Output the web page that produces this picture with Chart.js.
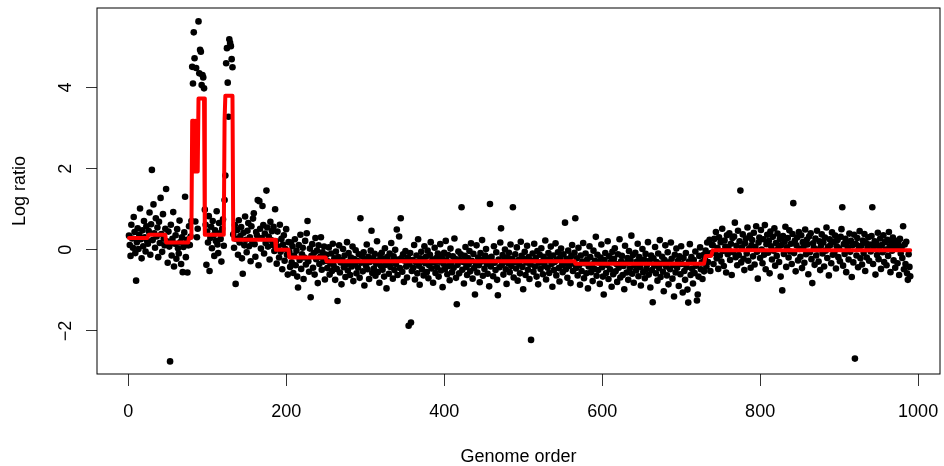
<!DOCTYPE html>
<html>
<head>
<meta charset="utf-8">
<title>Log ratio by genome order</title>
<script src="https://cdn.jsdelivr.net/npm/chart.js@4.4.1/dist/chart.umd.min.js"></script>
<style>
  body { margin: 0; background: #fff; }
  canvas { display: block; }
</style>
</head>
<body>
<canvas id="cnChart" width="944" height="466"></canvas>
<script>
// axis ticks
const xTicks = [0, 200, 400, 600, 800, 1000];
const yTicks = [-2, 0, 2, 4];

// log ratio per probe, in genome order (probe 1 .. 990)
const logRatio = [
  // 1-25
  0.35, 0.12, -0.15, 0.62, 0.28, 0.05, 0.81, 0.44, -0.08, -0.76, 0.19, 0.53, 0.02, 0.37, 1.02, 0.26, -0.21, 0.48, 0.09, 0.71, 0.31, -0.04, 0.58, 0.22, 0.15,
  // 26-47
  0.46, 0.92, -0.12, 0.63, 1.97, 0.24, 1.12, 0.41, 0.05, 0.78, 0.33, 0.55, -0.18, 0.69, 0.17, 1.28, 0.39, -0.05, 0.88, 0.28, 0.11, 0.52,
  // 48-76
  1.50, 0.21, -0.32, 0.45, 0.08, -2.75, 0.62, -0.14, 0.27, 0.93, -0.41, 0.15, 0.36, -0.22, 0.51, 0.04, -0.09, 0.72, 0.19, -0.35, 0.31, -0.55, 0.07, 0.43, 1.31, -0.18, 0.25, -0.56, 0.11,
  // 77-80
  0.58, 0.12, 0.33, 0.71,
  // 81-96 (first amplified region)
  4.51, 4.10, 5.36, 4.72, 0.70, 4.48, 0.31, 0.52, 5.63, 4.35, 4.93, 4.88, 4.06, 4.31, 4.25, 3.98,
  // 97-121
  0.99, 0.62, -0.37, 0.45, 0.18, 0.83, -0.52, 0.29, 0.57, 0.04, 0.71, 0.36, -0.15, 0.48, 0.22, 0.95, 0.13, -0.08, 0.66, 0.41, 0.27, -0.29, 0.52, 0.75, 0.10,
  // 122-132 (second amplified region)
  1.23, 1.83, 4.60, 4.97, 4.12, 3.28, 5.19, 5.10, 5.02, 4.70, 4.50,
  // 133-186
  0.38, 0.05, 0.61, -0.84, 0.27, 0.49, -0.12, 0.73, 0.18, 0.34,
  0.56, -0.21, -0.59, 0.42, 0.11, 0.82, 0.25, -0.06, 0.47, 0.66,
  0.09, 0.31, -0.28, 0.58, 0.21, 0.77, 0.90, 0.14, -0.17, 0.44,
  0.36, 1.23, -0.38, 1.20, 0.52, 0.03, 0.29, 1.08, 0.61, -0.09,
  0.40, 0.17, 1.46, 0.55, 0.08, 0.32, -0.24, 0.69, 0.24, 0.46,
  0.12, 0.57, -0.03, 1.00,
  // 187-203
  0.21, -0.34, 0.45, 0.08, -0.19, 0.62, -0.05, 0.27, -0.48, 0.13, 0.36, -0.27, 0.02, 0.51, -0.12, -0.61, 0.19,
  // 204-250
  -0.05, -0.42, 0.18, -0.31, 0.09, -0.57, -0.14, 0.26, -0.38, -0.02,
  -0.66, -0.93, 0.12, -0.25, 0.37, -0.47, -0.11, 0.05, -0.72, -0.19,
  0.22, -0.36, 0.41, 0.71, -0.28, -0.54, 0.03, -1.17, -0.15, 0.14,
  -0.44, -0.08, -0.61, 0.29, -0.23, -0.02, -0.82, 0.11, -0.35, -0.17,
  0.31, -0.49, -0.06, -0.29, 0.08, -0.73, -0.12,
  // 251-565
  -0.12, -0.45, -0.28, 0.06, -0.61, -0.33, -0.09, -0.52, 0.15, -0.38,
  -0.21, -0.74, -0.04, -0.47, -1.26, -0.18, 0.11, -0.56, -0.31, -0.85,
  -0.25, 0.02, -0.43, -0.14, -0.67, -0.36, 0.19, -0.51, -0.08, -0.29,
  -0.62, -0.19, -0.41, 0.08, -0.77, -0.23, -0.35, -0.01, -0.58, -0.27,
  -0.44, -0.11, -0.69, 0.78, -0.32, -0.15, -0.53, -0.06, -0.88, -0.24,
  -0.39, 0.13, -0.48, -0.17, -0.72, -0.30, -0.02, 0.47, -0.57, -0.21,
  -0.46, -0.10, -0.64, -0.34, 0.21, -0.55, -0.26, -0.81, -0.13, -0.40,
  -0.07, -0.49, -0.22, -0.66, 0.04, -0.37, -0.95, -0.18, -0.31, -0.59,
  -0.09, -0.42, 0.17, -0.28, -0.71, -0.16, -0.50, 0.00, -0.35, 0.50,
  -0.62, -0.24, 0.33, -0.45, 0.78, -0.20, -0.54, -0.11, -0.79, -0.27,
  -0.03, -0.41, -0.68, -0.19, -1.87, -0.36, -0.08, -1.79, -0.52, -0.25,
  -0.44, 0.12, -0.73, -0.30, -0.14, -0.58, 0.26, -0.39, -0.86, -0.21,
  -0.05, -0.48, -0.27, -0.63, 0.09, -0.33, -0.17, -0.55, -0.02, -0.70,
  -0.38, -0.12, 0.19, -0.46, -0.24, -0.81, -0.31, 0.05, -0.57, -0.20,
  -0.43, -0.09, -0.66, -0.29, 0.14, -0.51, -0.18, -0.92, -0.34, -0.07,
  -0.47, 0.22, -0.26, -0.60, -0.13, -0.40, -0.75, 0.03, -0.32, -0.55,
  -0.16, -0.44, 0.28, -0.22, -0.69, -1.34, -0.37, -0.04, -0.58, -0.25,
  -0.11, 1.05, -0.49, -0.30, -0.83, -0.15, 0.07, -0.42, -0.62, -0.20,
  -0.36, -0.03, -0.53, 0.16, -0.27, -0.71, -0.10, -0.45, -1.10, -0.33,
  0.11, -0.56, -0.19, -0.38, -0.80, -0.08, -0.29, 0.24, -0.64, -0.23,
  -0.47, -0.14, 0.02, -0.35, -0.59, -0.21, -0.90, 1.13, -0.41, -0.17,
  -0.28, -0.65, 0.09, -0.32, -0.50, -0.06, -0.74, -1.12, -0.24, -0.43,
  0.18, 0.53, -0.37, -0.13, -0.61, -0.26, 0.01, -0.48, -0.84, -0.19,
  -0.33, -0.07, -0.55, 0.13, -0.40, -0.22, 1.05, -0.68, -0.30, -0.11,
  -0.46, 0.06, -0.76, -0.25, -0.35, -0.58, 0.20, -0.15, -0.42, -0.97,
  -0.23, -0.05, -0.62, -0.31, 0.10, -0.49, -0.18, -0.72, -0.36, -2.22,
  -0.27, -0.09, -0.54, 0.15, -0.41, -0.20, -0.66, -0.03, -0.85, -0.32,
  -0.12, -0.47, 0.04, -0.29, -0.60, -0.17, -0.39, 0.23, -0.73, -0.26,
  -0.44, -0.08, -0.57, -0.21, 0.08, -0.35, -0.91, -0.14, -0.50, -0.30,
  0.16, -0.63, -0.24, -0.06, -0.45, -0.78, -0.19, 0.03, -0.38, -0.55,
  -0.11, -0.33, 0.67, -0.48, -0.22, -0.69, -0.02, -0.40, -0.28, -0.82,
  -0.15, 0.12, -0.52, -0.34, -0.07,
  // 566-730
  0.78, -0.45, -0.21, -0.63, 0.05, -0.38, -0.86, -0.14, -0.52, -0.29,
  0.17, -0.70, -0.33, -0.09, -0.58, -0.24, -0.95, -0.41, 0.09, -0.18,
  -0.55, -0.36, -0.77, -0.02, -0.47, -0.27, 0.32, -0.64, -0.12, -0.50,
  -0.31, -0.84, -0.19, 0.13, -0.43, -0.66, -1.10, -0.25, -0.08, -0.57,
  -0.37, 0.21, -0.72, -0.16, -0.48, -0.30, -0.91, -0.05, -0.60, -0.22,
  0.04, -0.53, -0.35, -0.79, -0.11, -0.44, 0.26, -0.68, -0.28, -0.15,
  -0.62, -0.40, -0.97, 0.10, -0.33, -0.56, -0.20, -0.74, -0.03, -0.46,
  -0.26, 0.35, -0.59, -0.13, -0.81, -0.38, -0.07, -0.51, -0.29, 0.15,
  -0.65, -0.18, -0.42, -0.88, -0.32, 0.02, -0.55, -0.24, -0.70, -0.10,
  -0.47, -0.36, 0.19, -0.61, -0.27, -0.93, -0.14, -0.50, -1.29, -0.21,
  -0.39, 0.07, -0.58, -0.30, -0.76, -0.09, -0.45, 0.24, -0.67, -0.34,
  -0.17, -0.54, -1.02, -0.25, 0.11, -0.41, -0.63, -0.06, -0.85, -0.31,
  -0.48, 0.18, -0.22, -0.71, -0.37, -1.15, -0.12, -0.56, 0.03, -0.44,
  -0.27, -0.89, -0.16, -0.60, 0.09, -0.35, -1.05, -0.20, -0.52, -0.74,
  -0.08, -0.43, -0.98, -1.30, -0.29, 0.14, -0.62, -0.18, -0.47, -0.83,
  -0.25, -0.57, -0.04, -0.39, -1.25, -1.10, -0.66, -0.15, 0.06, -0.48,
  -0.31, -0.72, -0.13, -0.53, -0.22,
  // 731-739
  -0.02, -0.41, 0.18, -0.30, -0.11, 0.25, -0.52, -0.08, 0.12,
  // 740-990
  0.12, -0.35, 0.27, -0.08, 0.44, -0.21, 0.05, -0.47, 0.31, -0.14,
  0.19, -0.29, 0.52, -0.03, -0.40, 0.23, 0.08, -0.56, 0.36, -0.11,
  0.02, 0.41, -0.25, 0.15, -0.62, 0.29, -0.06, 0.33, 0.67, -0.18,
  0.10, -0.38, 0.47, -0.13, 0.21, 1.46, -0.31, 0.06, 0.38, -0.22,
  -0.50, 0.16, 0.28, -0.09, 0.55, -0.27, 0.03, 0.35, -0.44, 0.11,
  0.24, -0.16, 0.42, -0.36, 0.07, 0.58, -0.05, -0.71, 0.18, 0.30,
  -0.20, 0.49, 0.01, -0.33, 0.26, -0.12, 0.61, -0.48, 0.14, 0.37,
  -0.07, 0.22, -0.58, 0.45, 0.09, -0.24, 0.32, -0.02, 0.53, -0.39,
  0.17, -0.15, 0.40, 0.04, -0.30, 0.27, -0.66, 0.12, -1.00, 0.34,
  -0.10, 0.20, 0.57, -0.42, 0.06, 0.29, -0.19, 0.48, -0.04, 0.15,
  -0.35, 0.39, 1.15, -0.08, 0.23, -0.53, 0.11, 0.31, -0.26, 0.44,
  0.02, -0.17, 0.36, -0.45, 0.19, 0.08, -0.32, 0.50, -0.11, 0.25,
  0.13, -0.60, 0.33, -0.06, 0.41, -0.23, -0.82, 0.16, 0.05, -0.37,
  0.28, -0.14, 0.47, 0.01, -0.29, 0.21, -0.50, 0.10, 0.38, -0.09,
  0.18, -0.41, 0.30, -0.02, 0.55, -0.20, 0.07, -0.63, 0.26, 0.12,
  -0.33, 0.43, -0.12, 0.20, -0.07, 0.35, -0.46, 0.09, 0.24, -0.18,
  0.04, -0.28, 0.32, 0.51, 1.05, -0.39, 0.14, -0.10, 0.27, -0.55,
  0.19, 0.06, -0.24, 0.40, -0.05, 0.22, -0.67, 0.11, -0.31, 0.37,
  -2.68, 0.15, -0.14, 0.29, -0.43, 0.03, 0.46, -0.21, 0.10, -0.36,
  0.23, -0.08, 0.39, -0.52, 0.17, -0.19, 0.05, 0.31, -0.27, 0.13,
  -0.04, 0.34, 1.05, -0.35, 0.08, 0.21, -0.61, 0.16, -0.13, 0.42,
  -0.23, 0.07, 0.28, -0.47, 0.12, -0.06, 0.36, -0.30, 0.19, 0.01,
  -0.38, 0.25, -0.15, 0.44, 0.09, -0.55, 0.18, -0.02, 0.30, -0.26,
  0.11, -0.44, 0.22, 0.04, -0.33, 0.15, -0.62, 0.27, -0.09, 0.06,
  -0.20, 0.58, -0.48, 0.13, -0.35, 0.20, -0.58, -0.74, -0.11, -0.42,
  -0.65
];

// segmentation result: first probe, last probe, segment mean
const segStart = [1, 26, 48, 77, 81, 82, 83, 84, 85, 86, 87, 88, 89, 97, 122, 123, 133, 187, 204, 251, 566, 731, 740];
const segEnd   = [25, 47, 76, 80, 81, 82, 83, 84, 85, 86, 87, 88, 96, 121, 122, 132, 186, 203, 250, 565, 730, 739, 990];
const segMean  = [0.29, 0.37, 0.18, 0.30, 3.18, 1.93, 3.18, 1.93, 3.18, 1.93, 3.18, 1.93, 3.73, 0.37, 3.20, 3.80, 0.25, 0.00, -0.19, -0.28, -0.34, -0.15, -0.01];

const FONT = '18px "Liberation Sans", Arial, Helvetica, sans-serif';

function buildPoints() {
    return logRatio.map((v, i) => ({ x: i + 1, y: v }));
}

// one point per probe, so the red line steps like R's lines()
function buildSegmentLine() {
    const pts = [];
    for (let s = 0; s < segStart.length; s++) {
        for (let i = segStart[s]; i <= segEnd[s]; i++) {
            pts.push({ x: i, y: segMean[s] });
        }
    }
    return pts;
}

// box, tick labels and axis titles in base-graphics style
const rAxesPlugin = {
    id: 'rAxes',
    afterDraw(chart) {
        const ctx = chart.ctx;
        const area = chart.chartArea;
        const xs = chart.scales.x;
        const ys = chart.scales.y;

        ctx.save();
        ctx.strokeStyle = '#000';
        ctx.lineWidth = 1;
        ctx.strokeRect(area.left, area.top, area.right - area.left, area.bottom - area.top);

        ctx.fillStyle = '#000';
        ctx.font = FONT;

        // x tick labels
        ctx.textAlign = 'center';
        ctx.textBaseline = 'alphabetic';
        xTicks.forEach(v => {
            ctx.fillText(String(v), xs.getPixelForValue(v), 416.5);
        });
        ctx.fillText('Genome order', (area.left + area.right) / 2, 461.5);

        // y tick labels, turned like las = 0
        yTicks.forEach(v => {
            ctx.save();
            ctx.translate(71, ys.getPixelForValue(v));
            ctx.rotate(-Math.PI / 2);
            ctx.fillText(String(v).replace('-', '\u2212'), 0, 0);
            ctx.restore();
        });

        ctx.save();
        ctx.translate(25, (area.top + area.bottom) / 2);
        ctx.rotate(-Math.PI / 2);
        ctx.fillText('Log ratio', 0, 0);
        ctx.restore();

        ctx.restore();
    }
};

function createChart() {
    const ctx = document.getElementById('cnChart').getContext('2d');

    return new Chart(ctx, {
        type: 'scatter',
        data: {
            datasets: [
                {
                    type: 'line',
                    label: 'Segments',
                    data: buildSegmentLine(),
                    borderColor: '#ff0000',
                    borderWidth: 4,
                    borderJoinStyle: 'round',
                    borderCapStyle: 'round',
                    pointRadius: 0,
                    fill: false,
                    tension: 0,
                    order: 0
                },
                {
                    type: 'scatter',
                    label: 'Log ratio',
                    data: buildPoints(),
                    backgroundColor: '#000000',
                    borderWidth: 0,
                    pointRadius: 3.3,
                    order: 1
                }
            ]
        },
        options: {
            responsive: false,
            animation: false,
            events: [],
            layout: { padding: { top: 8, right: 1, left: 0, bottom: 0 } },
            plugins: {
                legend: { display: false },
                tooltip: { enabled: false }
            },
            scales: {
                x: {
                    type: 'linear',
                    min: -39.5,
                    max: 1027.7,
                    afterBuildTicks: scale => { scale.ticks = xTicks.map(v => ({ value: v })); },
                    afterFit: scale => {
                        scale.height = 92;
                        scale.paddingLeft = 0;
                        scale.paddingRight = 0;
                    },
                    ticks: { display: false },
                    grid: { drawOnChartArea: false, tickLength: 12, color: '#333', lineWidth: 1 },
                    border: { display: false }
                },
                y: {
                    type: 'linear',
                    min: -3.06,
                    max: 5.96,
                    afterBuildTicks: scale => { scale.ticks = yTicks.map(v => ({ value: v })); },
                    afterFit: scale => {
                        scale.width = 97;
                        scale.paddingTop = 0;
                        scale.paddingBottom = 0;
                    },
                    ticks: { display: false },
                    grid: { drawOnChartArea: false, tickLength: 11, color: '#333', lineWidth: 1 },
                    border: { display: false }
                }
            }
        },
        plugins: [rAxesPlugin]
    });
}

createChart();
</script>
</body>
</html>
